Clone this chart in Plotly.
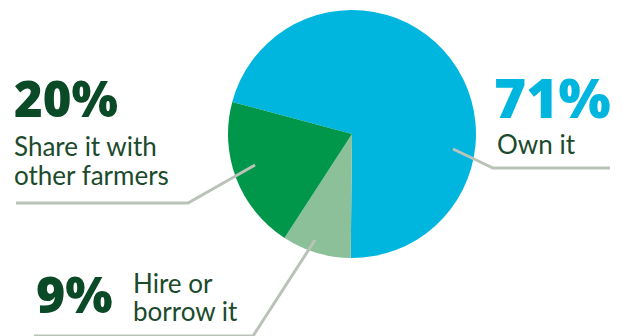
import plotly.graph_objects as go

# Share of farmers by how they access the equipment
labels = ["Own it", "Hire or borrow it", "Share it with other farmers"]
values = [71, 9, 20]
colors = ["#00b6de", "#8bc098", "#00974a"]

W, H = 623, 336
LINE_COLOR = "#bac3b7"
NUM_COLOR = "#0a4a26"
TEXT_COLOR = "#1b4a2c"


def px(x):
    return x / W


def py(y):
    return 1 - y / H


fig = go.Figure(
    go.Pie(
        labels=labels,
        values=values,
        marker=dict(colors=colors, line=dict(width=0)),
        sort=False,
        direction="clockwise",
        rotation=-75,
        textinfo="none",
        hoverinfo="label+percent",
        domain=dict(x=[px(228), px(476)], y=[py(258), py(10)]),
        showlegend=False,
    )
)

# Leader lines (pixel waypoints)
leaders = [
    [(453, 149), (493, 168), (610, 168)],
    [(255, 165), (188, 203), (16, 203)],
    [(315, 240), (253, 336), (34, 336)],
]
shapes = []
for pts in leaders:
    path = "M " + " L ".join(f"{px(x):.5f},{py(y):.5f}" for x, y in pts)
    shapes.append(dict(type="path", xref="paper", yref="paper", path=path,
                       line=dict(color=LINE_COLOR, width=3)))


def num_font(size, color=NUM_COLOR):
    return dict(family="Open Sans", size=size, color=color, weight=800)


txt_font = dict(family="Lato", size=26, color=TEXT_COLOR, weight=400)

annotations = [
    dict(text=f"{values[2]}%", x=px(12), y=py(133), font=num_font(49)),
    dict(text="Share it with", x=px(12), y=py(164), font=txt_font),
    dict(text="other farmers", x=px(12), y=py(193), font=txt_font),
    dict(text=f"{values[0]}%", x=px(492), y=py(135.5), font=num_font(55, colors[0])),
    dict(text="Own it", x=px(495), y=py(162), font=txt_font),
    dict(text=f"{values[1]}%", x=px(34), y=py(329.5), font=num_font(50)),
    dict(text="Hire or", x=px(131), y=py(300.5), font=txt_font),
    dict(text="borrow it", x=px(131), y=py(328.5), font=txt_font),
]
for a in annotations:
    a.update(xref="paper", yref="paper", xanchor="left", yanchor="bottom",
             showarrow=False, align="left")

fig.update_layout(
    width=W, height=H,
    margin=dict(l=0, r=0, t=0, b=0),
    paper_bgcolor="white",
    plot_bgcolor="white",
    shapes=shapes,
    annotations=annotations,
)

fig.write_html("out.html")
